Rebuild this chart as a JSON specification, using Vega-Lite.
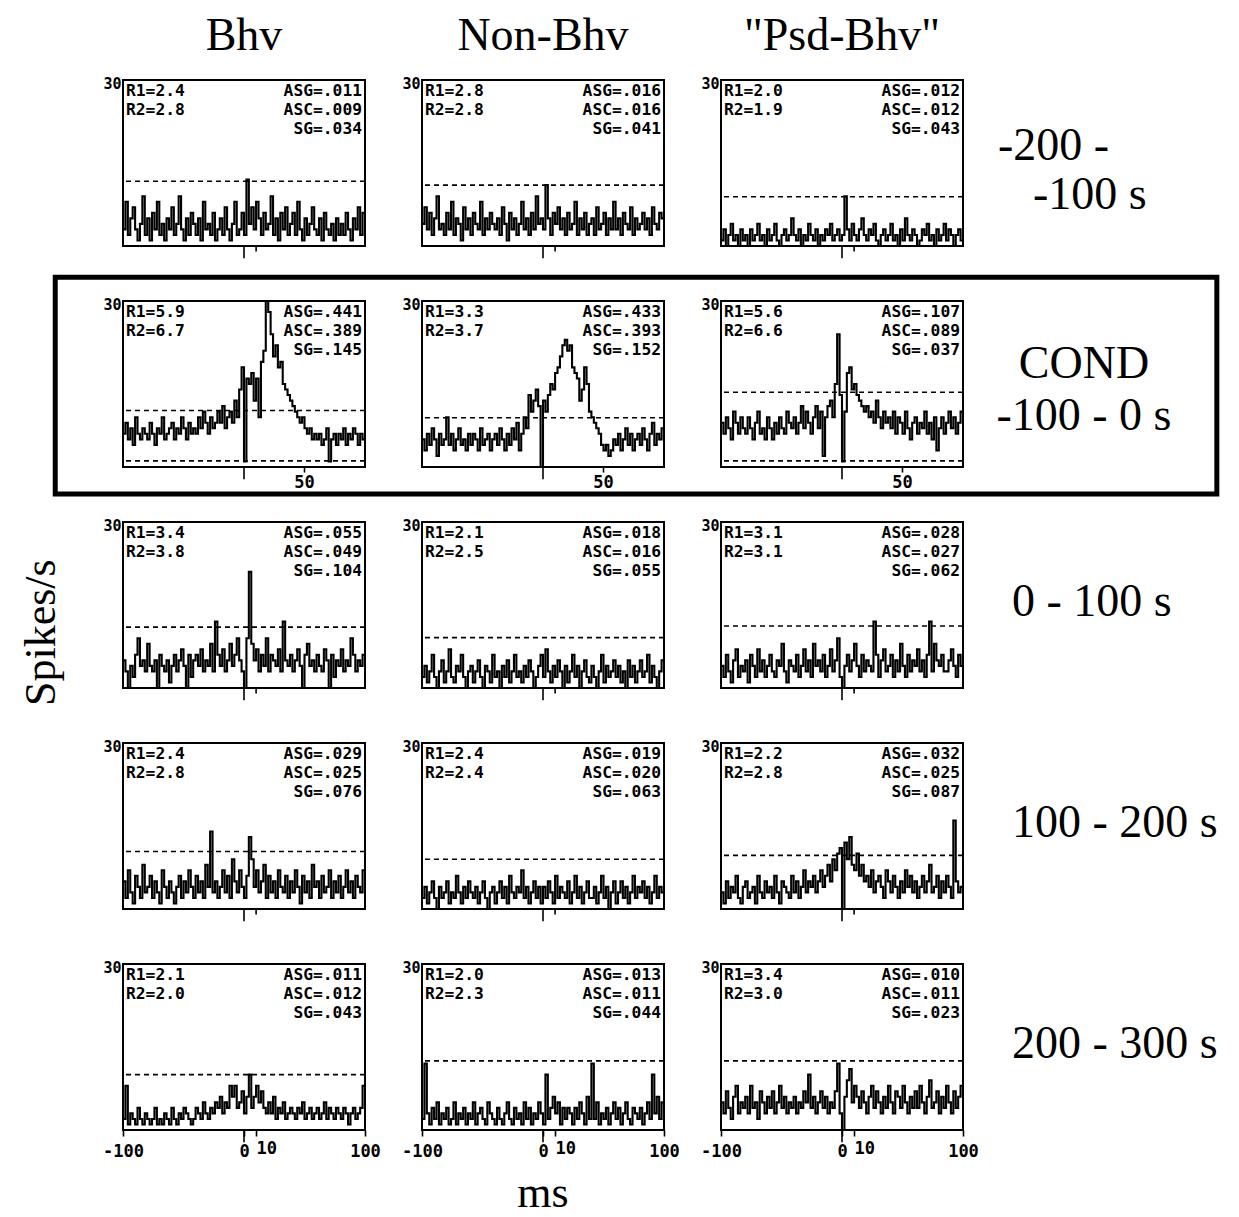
{
"$schema":"https://vega.github.io/schema/vega-lite/v6.json",
"background":"white",
"padding":{"left":18,"top":13,"right":5,"bottom":5},
"datasets":{
"cc":[
{"x":-100,"a":3,"b":4,"c":1,"d":6,"e":5,"f":8,"g":5,"h":2,"i":4,"j":5,"k":2,"l":3,"m":2,"n":2,"o":5},
{"x":-98,"a":8,"b":7,"c":3,"d":8,"e":3,"f":6,"g":3,"h":4,"i":2,"j":2,"k":4,"l":1,"m":8,"n":12,"o":3},
{"x":-96,"a":2,"b":3,"c":0,"d":5,"e":6,"f":9,"g":0,"h":1,"i":6,"j":7,"k":1,"l":5,"m":1,"n":3,"o":7},
{"x":-94,"a":5,"b":6,"c":2,"d":7,"e":4,"f":7,"g":4,"h":3,"i":3,"j":3,"k":3,"l":2,"m":3,"n":1,"o":4},
{"x":-92,"a":7,"b":2,"c":4,"d":4,"e":7,"f":5,"g":2,"h":6,"i":1,"j":1,"k":5,"l":4,"m":2,"n":4,"o":2},
{"x":-90,"a":3,"b":5,"c":1,"d":9,"e":5,"f":10,"g":6,"h":2,"i":5,"j":6,"k":2,"l":3,"m":1,"n":2,"o":6},
{"x":-88,"a":1,"b":9,"c":2,"d":6,"e":2,"f":8,"g":9,"h":0,"i":7,"j":4,"k":0,"l":6,"m":4,"n":5,"o":8},
{"x":-86,"a":4,"b":3,"c":0,"d":5,"e":6,"f":6,"g":4,"h":3,"i":2,"j":2,"k":4,"l":2,"m":2,"n":1,"o":3},
{"x":-84,"a":9,"b":4,"c":3,"d":7,"e":4,"f":9,"g":5,"h":5,"i":4,"j":8,"k":2,"l":1,"m":1,"n":3,"o":5},
{"x":-82,"a":2,"b":2,"c":1,"d":6,"e":5,"f":7,"g":3,"h":1,"i":3,"j":3,"k":3,"l":4,"m":3,"n":2,"o":4},
{"x":-80,"a":5,"b":6,"c":2,"d":5,"e":9,"f":6,"g":8,"h":3,"i":5,"j":4,"k":5,"l":5,"m":2,"n":4,"o":6},
{"x":-78,"a":1,"b":3,"c":0,"d":8,"e":4,"f":9,"g":4,"h":7,"i":1,"j":6,"k":1,"l":2,"m":1,"n":1,"o":3},
{"x":-76,"a":6,"b":8,"c":3,"d":6,"e":6,"f":7,"g":3,"h":2,"i":6,"j":2,"k":3,"l":3,"m":2,"n":2,"o":8},
{"x":-74,"a":3,"b":2,"c":1,"d":4,"e":3,"f":5,"g":5,"h":1,"i":4,"j":5,"k":2,"l":4,"m":4,"n":5,"o":4},
{"x":-72,"a":8,"b":5,"c":2,"d":7,"e":5,"f":8,"g":0,"h":4,"i":2,"j":3,"k":6,"l":1,"m":1,"n":1,"o":5},
{"x":-70,"a":2,"b":4,"c":4,"d":6,"e":7,"f":10,"g":6,"h":3,"i":7,"j":1,"k":3,"l":6,"m":2,"n":3,"o":2},
{"x":-68,"a":4,"b":1,"c":1,"d":9,"e":4,"f":6,"g":4,"h":6,"i":3,"j":7,"k":1,"l":3,"m":1,"n":2,"o":7},
{"x":-66,"a":1,"b":7,"c":2,"d":5,"e":5,"f":7,"g":3,"h":2,"i":5,"j":4,"k":4,"l":2,"m":3,"n":4,"o":5},
{"x":-64,"a":5,"b":3,"c":0,"d":6,"e":3,"f":5,"g":5,"h":0,"i":2,"j":2,"k":2,"l":5,"m":2,"n":1,"o":3},
{"x":-62,"a":3,"b":5,"c":3,"d":7,"e":6,"f":9,"g":1,"h":3,"i":4,"j":5,"k":5,"l":3,"m":1,"n":3,"o":6},
{"x":-60,"a":7,"b":2,"c":1,"d":8,"e":4,"f":7,"g":4,"h":4,"i":6,"j":3,"k":3,"l":4,"m":4,"n":2,"o":4},
{"x":-58,"a":2,"b":6,"c":2,"d":5,"e":6,"f":5,"g":6,"h":1,"i":3,"j":1,"k":2,"l":2,"m":2,"n":5,"o":7},
{"x":-56,"a":4,"b":4,"c":4,"d":7,"e":5,"f":8,"g":3,"h":3,"i":2,"j":4,"k":4,"l":6,"m":1,"n":1,"o":3},
{"x":-54,"a":9,"b":3,"c":1,"d":6,"e":3,"f":6,"g":5,"h":5,"i":5,"j":6,"k":1,"l":3,"m":3,"n":3,"o":5},
{"x":-52,"a":3,"b":8,"c":0,"d":9,"e":7,"f":9,"g":7,"h":2,"i":4,"j":2,"k":3,"l":1,"m":2,"n":4,"o":8},
{"x":-50,"a":1,"b":2,"c":2,"d":7,"e":4,"f":7,"g":4,"h":0,"i":8,"j":5,"k":5,"l":5,"m":4,"n":2,"o":4},
{"x":-48,"a":5,"b":5,"c":3,"d":5,"e":5,"f":6,"g":0,"h":4,"i":3,"j":3,"k":2,"l":4,"m":3,"n":1,"o":6},
{"x":-46,"a":2,"b":3,"c":1,"d":8,"e":6,"f":10,"g":6,"h":3,"i":1,"j":7,"k":0,"l":3,"m":2,"n":5,"o":3},
{"x":-44,"a":6,"b":6,"c":2,"d":6,"e":3,"f":8,"g":2,"h":1,"i":5,"j":4,"k":3,"l":2,"m":1,"n":3,"o":5},
{"x":-42,"a":4,"b":4,"c":5,"d":7,"e":5,"f":7,"g":5,"h":6,"i":4,"j":2,"k":4,"l":6,"m":2,"n":2,"o":4},
{"x":-40,"a":2,"b":3,"c":2,"d":6,"e":6,"f":9,"g":6,"h":2,"i":3,"j":6,"k":1,"l":3,"m":4,"n":1,"o":6},
{"x":-38,"a":5,"b":5,"c":1,"d":9,"e":4,"f":6,"g":4,"h":3,"i":6,"j":3,"k":3,"l":5,"m":3,"n":4,"o":3},
{"x":-36,"a":1,"b":2,"c":3,"d":7,"e":7,"f":8,"g":7,"h":0,"i":2,"j":5,"k":5,"l":2,"m":2,"n":2,"o":5},
{"x":-34,"a":8,"b":7,"c":0,"d":10,"e":5,"f":11,"g":3,"h":4,"i":4,"j":2,"k":2,"l":4,"m":5,"n":1,"o":4},
{"x":-32,"a":3,"b":4,"c":2,"d":8,"e":3,"f":7,"g":5,"h":2,"i":7,"j":8,"k":4,"l":7,"m":3,"n":3,"o":7},
{"x":-30,"a":4,"b":1,"c":1,"d":6,"e":6,"f":10,"g":4,"h":5,"i":3,"j":4,"k":1,"l":3,"m":2,"n":5,"o":5},
{"x":-28,"a":2,"b":6,"c":4,"d":9,"e":4,"f":8,"g":8,"h":1,"i":5,"j":14,"k":6,"l":5,"m":4,"n":2,"o":10},
{"x":-26,"a":6,"b":3,"c":2,"d":7,"e":7,"f":6,"g":3,"h":3,"i":2,"j":3,"k":3,"l":4,"m":3,"n":1,"o":4},
{"x":-24,"a":1,"b":5,"c":1,"d":8,"e":5,"f":9,"g":12,"h":6,"i":8,"j":5,"k":2,"l":6,"m":5,"n":4,"o":6},
{"x":-22,"a":3,"b":2,"c":3,"d":10,"e":8,"f":11,"g":6,"h":2,"i":4,"j":2,"k":4,"l":3,"m":4,"n":2,"o":3},
{"x":-20,"a":5,"b":4,"c":0,"d":8,"e":3,"f":7,"g":4,"h":3,"i":5,"j":4,"k":3,"l":5,"m":6,"n":3,"o":5},
{"x":-18,"a":2,"b":8,"c":2,"d":11,"e":6,"f":10,"g":7,"h":1,"i":3,"j":7,"k":7,"l":7,"m":3,"n":1,"o":7},
{"x":-16,"a":7,"b":3,"c":1,"d":7,"e":9,"f":2,"g":3,"h":4,"i":6,"j":3,"k":2,"l":4,"m":5,"n":5,"o":4},
{"x":-14,"a":3,"b":5,"c":3,"d":9,"e":7,"f":9,"g":5,"h":2,"i":2,"j":6,"k":4,"l":6,"m":4,"n":2,"o":6},
{"x":-12,"a":1,"b":2,"c":2,"d":10,"e":13,"f":11,"g":8,"h":5,"i":4,"j":2,"k":1,"l":8,"m":8,"n":4,"o":3},
{"x":-10,"a":4,"b":6,"c":4,"d":8,"e":10,"f":12,"g":4,"h":3,"i":7,"j":9,"k":3,"l":5,"m":6,"n":1,"o":5},
{"x":-8,"a":8,"b":3,"c":1,"d":12,"e":12,"f":9,"g":6,"h":0,"i":3,"j":5,"k":5,"l":9,"m":8,"n":3,"o":4},
{"x":-6,"a":2,"b":9,"c":2,"d":9,"e":14,"f":15,"g":9,"h":2,"i":5,"j":3,"k":2,"l":7,"m":4,"n":2,"o":7},
{"x":-4,"a":3,"b":4,"c":3,"d":14,"e":11,"f":24,"g":5,"h":4,"i":9,"j":7,"k":4,"l":10,"m":5,"n":5,"o":12},
{"x":-2,"a":6,"b":5,"c":1,"d":18,"e":0,"f":13,"g":3,"h":6,"i":2,"j":4,"k":1,"l":11,"m":7,"n":3,"o":3},
{"x":0,"a":2,"b":3,"c":2,"d":1,"e":12,"f":1,"g":0,"h":2,"i":0,"j":2,"k":4,"l":0,"m":3,"n":1,"o":0},
{"x":2,"a":12,"b":11,"c":9,"d":16,"e":10,"f":10,"g":9,"h":7,"i":4,"j":6,"k":2,"l":12,"m":6,"n":10,"o":6},
{"x":4,"a":4,"b":5,"c":3,"d":15,"e":13,"f":17,"g":21,"h":3,"i":6,"j":13,"k":5,"l":9,"m":10,"n":2,"o":9},
{"x":6,"a":7,"b":2,"c":1,"d":17,"e":15,"f":18,"g":8,"h":1,"i":3,"j":9,"k":3,"l":13,"m":4,"n":4,"o":11},
{"x":8,"a":3,"b":6,"c":4,"d":12,"e":14,"f":14,"g":5,"h":4,"i":5,"j":4,"k":1,"l":8,"m":6,"n":6,"o":5},
{"x":10,"a":8,"b":4,"c":2,"d":16,"e":17,"f":15,"g":7,"h":2,"i":8,"j":7,"k":6,"l":7,"m":8,"n":3,"o":8},
{"x":12,"a":5,"b":7,"c":1,"d":9,"e":18,"f":13,"g":3,"h":5,"i":4,"j":3,"k":2,"l":10,"m":5,"n":5,"o":6},
{"x":14,"a":2,"b":3,"c":3,"d":19,"e":20,"f":12,"g":6,"h":3,"i":2,"j":5,"k":4,"l":6,"m":7,"n":1,"o":4},
{"x":16,"a":6,"b":5,"c":5,"d":21,"e":22,"f":11,"g":4,"h":0,"i":6,"j":8,"k":3,"l":8,"m":4,"n":4,"o":7},
{"x":18,"a":3,"b":2,"c":2,"d":30,"e":23,"f":10,"g":9,"h":4,"i":3,"j":2,"k":2,"l":5,"m":3,"n":2,"o":5},
{"x":20,"a":4,"b":6,"c":1,"d":28,"e":21,"f":11,"g":3,"h":1,"i":5,"j":6,"k":5,"l":6,"m":5,"n":4,"o":3},
{"x":22,"a":9,"b":3,"c":3,"d":24,"e":22,"f":9,"g":6,"h":3,"i":4,"j":3,"k":1,"l":4,"m":3,"n":3,"o":6},
{"x":24,"a":2,"b":4,"c":2,"d":20,"e":18,"f":10,"g":5,"h":6,"i":3,"j":5,"k":3,"l":7,"m":6,"n":1,"o":8},
{"x":26,"a":5,"b":8,"c":4,"d":22,"e":17,"f":8,"g":4,"h":2,"i":12,"j":2,"k":6,"l":3,"m":2,"n":4,"o":4},
{"x":28,"a":1,"b":2,"c":1,"d":18,"e":16,"f":12,"g":7,"h":4,"i":6,"j":7,"k":2,"l":5,"m":4,"n":2,"o":7},
{"x":30,"a":6,"b":5,"c":0,"d":19,"e":12,"f":9,"g":3,"h":0,"i":2,"j":4,"k":4,"l":6,"m":3,"n":5,"o":5},
{"x":32,"a":3,"b":3,"c":2,"d":15,"e":14,"f":7,"g":12,"h":3,"i":5,"j":3,"k":1,"l":4,"m":5,"n":3,"o":3},
{"x":34,"a":7,"b":6,"c":3,"d":14,"e":18,"f":10,"g":5,"h":5,"i":7,"j":6,"k":3,"l":2,"m":2,"n":1,"o":6},
{"x":36,"a":2,"b":2,"c":1,"d":13,"e":15,"f":8,"g":4,"h":2,"i":3,"j":2,"k":5,"l":7,"m":3,"n":6,"o":4},
{"x":38,"a":4,"b":4,"c":2,"d":12,"e":10,"f":9,"g":6,"h":1,"i":4,"j":5,"k":2,"l":5,"m":4,"n":2,"o":8},
{"x":40,"a":6,"b":5,"c":4,"d":11,"e":9,"f":7,"g":3,"h":4,"i":6,"j":3,"k":2,"l":3,"m":3,"n":12,"o":5},
{"x":42,"a":2,"b":2,"c":1,"d":10,"e":8,"f":10,"g":5,"h":2,"i":2,"j":7,"k":4,"l":6,"m":2,"n":2,"o":3},
{"x":44,"a":8,"b":7,"c":2,"d":9,"e":7,"f":6,"g":7,"h":0,"i":5,"j":4,"k":1,"l":4,"m":4,"n":5,"o":7},
{"x":46,"a":3,"b":3,"c":0,"d":8,"e":6,"f":9,"g":4,"h":3,"i":3,"j":1,"k":3,"l":2,"m":3,"n":1,"o":6},
{"x":48,"a":1,"b":4,"c":3,"d":9,"e":4,"f":8,"g":0,"h":6,"i":8,"j":6,"k":6,"l":5,"m":5,"n":3,"o":4},
{"x":50,"a":5,"b":6,"c":1,"d":7,"e":3,"f":6,"g":6,"h":1,"i":4,"j":3,"k":2,"l":3,"m":2,"n":2,"o":8},
{"x":52,"a":2,"b":2,"c":5,"d":6,"e":4,"f":10,"g":8,"h":4,"i":2,"j":5,"k":4,"l":7,"m":3,"n":4,"o":5},
{"x":54,"a":4,"b":5,"c":2,"d":7,"e":2,"f":7,"g":4,"h":2,"i":6,"j":2,"k":0,"l":4,"m":4,"n":1,"o":3},
{"x":56,"a":7,"b":3,"c":1,"d":5,"e":3,"f":5,"g":5,"h":3,"i":3,"j":8,"k":3,"l":6,"m":2,"n":3,"o":6},
{"x":58,"a":3,"b":8,"c":3,"d":6,"e":5,"f":8,"g":3,"h":5,"i":5,"j":4,"k":5,"l":3,"m":3,"n":5,"o":4},
{"x":60,"a":2,"b":3,"c":2,"d":5,"e":4,"f":9,"g":6,"h":2,"i":4,"j":5,"k":1,"l":5,"m":4,"n":2,"o":7},
{"x":62,"a":5,"b":5,"c":0,"d":6,"e":6,"f":6,"g":4,"h":4,"i":7,"j":2,"k":3,"l":2,"m":2,"n":4,"o":4},
{"x":64,"a":1,"b":2,"c":1,"d":4,"e":3,"f":8,"g":3,"h":1,"i":3,"j":6,"k":5,"l":4,"m":3,"n":1,"o":8},
{"x":66,"a":6,"b":6,"c":3,"d":5,"e":5,"f":7,"g":7,"h":3,"i":5,"j":3,"k":2,"l":6,"m":5,"n":3,"o":5},
{"x":68,"a":3,"b":4,"c":2,"d":7,"e":7,"f":10,"g":5,"h":0,"i":2,"j":4,"k":4,"l":3,"m":2,"n":5,"o":3},
{"x":70,"a":2,"b":3,"c":4,"d":1,"e":4,"f":6,"g":0,"h":5,"i":6,"j":7,"k":1,"l":5,"m":4,"n":2,"o":6},
{"x":72,"a":4,"b":7,"c":1,"d":5,"e":6,"f":8,"g":6,"h":2,"i":12,"j":2,"k":3,"l":8,"m":3,"n":1,"o":9},
{"x":74,"a":1,"b":2,"c":2,"d":6,"e":3,"f":5,"g":2,"h":4,"i":3,"j":5,"k":6,"l":3,"m":2,"n":4,"o":4},
{"x":76,"a":5,"b":5,"c":0,"d":4,"e":5,"f":9,"g":5,"h":1,"i":8,"j":3,"k":2,"l":4,"m":4,"n":3,"o":5},
{"x":78,"a":2,"b":3,"c":3,"d":6,"e":6,"f":3,"g":4,"h":3,"i":5,"j":6,"k":4,"l":6,"m":3,"n":2,"o":7},
{"x":80,"a":4,"b":4,"c":1,"d":5,"e":4,"f":7,"g":7,"h":5,"i":4,"j":2,"k":3,"l":2,"m":2,"n":4,"o":3},
{"x":82,"a":2,"b":6,"c":2,"d":7,"e":7,"f":9,"g":3,"h":2,"i":6,"j":4,"k":5,"l":5,"m":4,"n":1,"o":6},
{"x":84,"a":6,"b":3,"c":4,"d":4,"e":5,"f":6,"g":5,"h":3,"i":3,"j":7,"k":2,"l":3,"m":3,"n":3,"o":4},
{"x":86,"a":3,"b":5,"c":1,"d":6,"e":3,"f":8,"g":4,"h":6,"i":3,"j":3,"k":4,"l":6,"m":1,"n":5,"o":8},
{"x":88,"a":1,"b":2,"c":3,"d":5,"e":6,"f":10,"g":9,"h":1,"i":5,"j":5,"k":1,"l":4,"m":3,"n":2,"o":5},
{"x":90,"a":5,"b":7,"c":2,"d":7,"e":8,"f":7,"g":6,"h":4,"i":7,"j":2,"k":3,"l":2,"m":4,"n":10,"o":3},
{"x":92,"a":3,"b":4,"c":0,"d":6,"e":4,"f":9,"g":3,"h":2,"i":4,"j":6,"k":6,"l":16,"m":2,"n":3,"o":7},
{"x":94,"a":7,"b":3,"c":2,"d":4,"e":6,"f":6,"g":5,"h":0,"i":2,"j":4,"k":2,"l":5,"m":3,"n":6,"o":4},
{"x":96,"a":2,"b":6,"c":3,"d":6,"e":5,"f":8,"g":4,"h":3,"i":6,"j":3,"k":4,"l":3,"m":4,"n":2,"o":6},
{"x":98,"a":6,"b":5,"c":1,"d":5,"e":7,"f":10,"g":6,"h":5,"i":4,"j":7,"k":3,"l":4,"m":8,"n":5,"o":8},
{"x":100,"a":6,"b":5,"c":1,"d":5,"e":7,"f":10,"g":6,"h":5,"i":4,"j":7,"k":3,"l":4,"m":8,"n":5,"o":8}
],
"panels":[
{"p":"a","row":"r1","col":"Bhv","hi":11.7,"L":"R1=2.4\nR2=2.8","R":"ASG=.011\nASC=.009\nSG=.034","t":10},
{"p":"b","row":"r1","col":"Non-Bhv","hi":11.0,"L":"R1=2.8\nR2=2.8","R":"ASG=.016\nASC=.016\nSG=.041","t":10},
{"p":"c","row":"r1","col":"\"Psd-Bhv\"","hi":8.9,"L":"R1=2.0\nR2=1.9","R":"ASG=.012\nASC=.012\nSG=.043","t":10,"l1":"-200 -","l2":"-100 s"},
{"p":"d","row":"r2","col":"Bhv","hi":10.2,"lo":1.1,"L":"R1=5.9\nR2=6.7","R":"ASG=.441\nASC=.389\nSG=.145","t":50},
{"p":"e","row":"r2","col":"Non-Bhv","hi":8.9,"L":"R1=3.3\nR2=3.7","R":"ASG=.433\nASC=.393\nSG=.152","t":50},
{"p":"f","row":"r2","col":"\"Psd-Bhv\"","hi":13.5,"lo":1.1,"L":"R1=5.6\nR2=6.6","R":"ASG=.107\nASC=.089\nSG=.037","t":50,"l1":"COND","l2":"-100 - 0 s"},
{"p":"g","row":"r3","col":"Bhv","hi":11.0,"L":"R1=3.4\nR2=3.8","R":"ASG=.055\nASC=.049\nSG=.104","t":10},
{"p":"h","row":"r3","col":"Non-Bhv","hi":9.1,"L":"R1=2.1\nR2=2.5","R":"ASG=.018\nASC=.016\nSG=.055","t":10},
{"p":"i","row":"r3","col":"\"Psd-Bhv\"","hi":11.2,"L":"R1=3.1\nR2=3.1","R":"ASG=.028\nASC=.027\nSG=.062","t":10,"l1":"0 - 100 s"},
{"p":"j","row":"r4","col":"Bhv","hi":10.4,"L":"R1=2.4\nR2=2.8","R":"ASG=.029\nASC=.025\nSG=.076","t":10},
{"p":"k","row":"r4","col":"Non-Bhv","hi":9.0,"L":"R1=2.4\nR2=2.4","R":"ASG=.019\nASC=.020\nSG=.063","t":10},
{"p":"l","row":"r4","col":"\"Psd-Bhv\"","hi":9.7,"L":"R1=2.2\nR2=2.8","R":"ASG=.032\nASC=.025\nSG=.087","t":10,"l1":"100 - 200 s"},
{"p":"m","row":"r5","col":"Bhv","hi":10.0,"L":"R1=2.1\nR2=2.0","R":"ASG=.011\nASC=.012\nSG=.043"},
{"p":"n","row":"r5","col":"Non-Bhv","hi":12.5,"L":"R1=2.0\nR2=2.3","R":"ASG=.013\nASC=.011\nSG=.044"},
{"p":"o","row":"r5","col":"\"Psd-Bhv\"","hi":12.5,"L":"R1=3.4\nR2=3.0","R":"ASG=.010\nASC=.011\nSG=.023","l1":"200 - 300 s"}
]
},
"data":{"name":"cc"},
"transform":[
{"fold":["a","b","c","d","e","f","g","h","i","j","k","l","m","n","o"],"as":["p","v"]},
{"lookup":"p","from":{"data":{"name":"panels"},"key":"p","fields":["row","col","hi","lo","L","R","t","l1","l2"]}}
],
"facet":{
"row":{"field":"row","type":"nominal","sort":["r1","r2","r3","r4","r5"],"title":null,"header":{"labels":false}},
"column":{"field":"col","type":"nominal","sort":["Bhv","Non-Bhv","\"Psd-Bhv\""],"title":null,
"header":{"labelOrient":"top","labelFont":"Liberation Serif","labelFontSize":46,"labelColor":"black","labelPadding":20}}
},
"spacing":{"row":55,"column":57},
"bounds":"flush",
"resolve":{"axis":{"y":"independent"}},
"spec":{
"width":242,"height":166,
"layer":[
{"mark":{"type":"line","interpolate":"step-after","color":"black","strokeWidth":2.1},
"encoding":{
"x":{"field":"x","type":"quantitative","scale":{"domain":[-100,100],"nice":false,"zero":false},
"axis":{"values":[-100,0,10,100],"title":null,"grid":false,"domain":false,"tickSize":6,
"tickColor":"black","tickWidth":1.6,"labelFont":"DejaVu Sans Mono","labelFontWeight":"bold","labelFontSize":17,"labelColor":"black",
"labelPadding":{"condition":{"test":"datum.value == 10","value":4},"value":7},
"labelAlign":{"condition":{"test":"datum.value == 10","value":"left"},"value":"center"},
"labelFlush":false,"labelOverlap":false,"labelExpr":"'' + datum.value"}},
"y":{"field":"v","type":"quantitative","scale":{"domain":[0,30],"nice":false,"zero":false},
"axis":{"values":[30],"title":null,"grid":false,"domain":false,"ticks":false,"labelFont":"DejaVu Sans Mono","labelFontWeight":"bold","labelFontSize":15,"labelColor":"black","labelPadding":2,"labelOffset":3}}
}},
{"transform":[{"filter":"datum.x == -100"}],"mark":{"type":"rule","strokeDash":[5,4],"strokeWidth":1.6,"color":"black"},
"encoding":{"y":{"field":"hi","type":"quantitative"}}},
{"transform":[{"filter":"datum.x == -100 && isValid(datum.lo)"}],"mark":{"type":"rule","strokeDash":[5,4],"strokeWidth":1.6,"color":"black"},
"encoding":{"y":{"field":"lo","type":"quantitative"}}},
{"transform":[{"filter":"datum.x == -100"}],"mark":{"type":"text","align":"left","baseline":"top","lineBreak":"\n","lineHeight":19,"font":"DejaVu Sans Mono","fontWeight":"bold","fontSize":16.3,"dx":3,"dy":3,"color":"black"},
"encoding":{"x":{"datum":-100},"y":{"datum":30},"text":{"field":"L"}}},
{"transform":[{"filter":"datum.x == -100"}],"mark":{"type":"text","align":"right","baseline":"top","lineBreak":"\n","lineHeight":19,"font":"DejaVu Sans Mono","fontWeight":"bold","fontSize":16.3,"dx":-3,"dy":3,"color":"black"},
"encoding":{"x":{"datum":100},"y":{"datum":30},"text":{"field":"R"}}},
{"transform":[{"filter":"datum.x == -100"}],"mark":{"type":"rule","strokeWidth":1.6,"color":"black"},
"encoding":{"x":{"datum":0},"y":{"datum":0},"y2":{"datum":-2.2}}},
{"transform":[{"filter":"datum.x == -100 && isValid(datum.t)"}],"mark":{"type":"rule","strokeWidth":1.6,"color":"black"},
"encoding":{"x":{"field":"t","type":"quantitative"},"y":{"datum":0},"y2":{"datum":-1}}},
{"transform":[{"filter":"datum.x == -100 && datum.t == 50"}],"mark":{"type":"text","align":"center","baseline":"top","font":"DejaVu Sans Mono","fontWeight":"bold","fontSize":17,"dy":8,"color":"black"},
"encoding":{"x":{"field":"t","type":"quantitative"},"y":{"datum":0},"text":{"field":"t","type":"quantitative"}}},
{"transform":[{"filter":"datum.x == -100 && datum.p == 'd'"}],"mark":{"type":"rect","filled":false,"stroke":"black","strokeWidth":5},
"encoding":{"x":{"datum":-156},"x2":{"datum":804},"y":{"datum":34.3},"y2":{"datum":-4.9}}},
{"transform":[{"filter":"datum.x == -100 && datum.p == 'c'"}],"mark":{"type":"text","align":"left","baseline":"alphabetic","font":"Liberation Serif","fontSize":46,"dx":35,"color":"black"},
"encoding":{"x":{"datum":100},"y":{"datum":15.5},"text":{"field":"l1"}}},
{"transform":[{"filter":"datum.x == -100 && datum.p == 'c'"}],"mark":{"type":"text","align":"left","baseline":"alphabetic","font":"Liberation Serif","fontSize":46,"dx":70,"color":"black"},
"encoding":{"x":{"datum":100},"y":{"datum":6.7},"text":{"field":"l2"}}},
{"transform":[{"filter":"datum.x == -100 && datum.p == 'f'"}],"mark":{"type":"text","align":"center","baseline":"alphabetic","font":"Liberation Serif","fontSize":46,"dx":121,"color":"black"},
"encoding":{"x":{"datum":100},"y":{"datum":16.1},"text":{"field":"l1"}}},
{"transform":[{"filter":"datum.x == -100 && datum.p == 'f'"}],"mark":{"type":"text","align":"center","baseline":"alphabetic","font":"Liberation Serif","fontSize":46,"dx":121,"color":"black"},
"encoding":{"x":{"datum":100},"y":{"datum":6.7},"text":{"field":"l2"}}},
{"transform":[{"filter":"datum.x == -100 && (datum.p == 'i' || datum.p == 'l' || datum.p == 'o')"}],"mark":{"type":"text","align":"left","baseline":"alphabetic","font":"Liberation Serif","fontSize":46,"dx":49,"color":"black"},
"encoding":{"x":{"datum":100},"y":{"datum":13},"text":{"field":"l1"}}},
{"transform":[{"filter":"datum.x == -100 && datum.p == 'g'"}],"mark":{"type":"text","align":"center","baseline":"middle","angle":270,"font":"Liberation Serif","fontSize":44,"color":"black","text":"Spikes/s"},
"encoding":{"x":{"datum":-167},"y":{"datum":10}}},
{"transform":[{"filter":"datum.x == -100 && datum.p == 'n'"}],"mark":{"type":"text","align":"center","baseline":"middle","font":"Liberation Serif","fontSize":44,"color":"black","text":"ms"},
"encoding":{"x":{"datum":0},"y":{"datum":-11.5}}}
]
},
"config":{"view":{"stroke":"black","strokeWidth":2}}
}
